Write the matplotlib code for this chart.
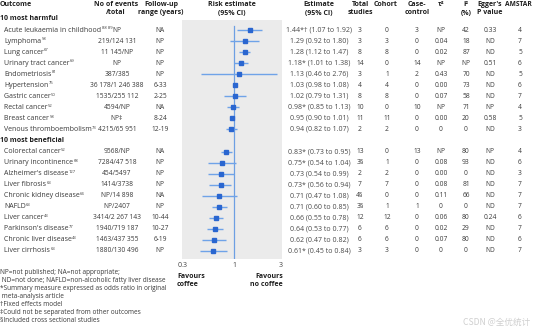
import matplotlib
matplotlib.use("Agg")
import matplotlib.pyplot as plt
from matplotlib.ticker import NullLocator

# ---- data -------------------------------------------------------------
outcomes = ["Acute leukaemia in childhood", "Lymphoma", "Lung cancer",
            "Urinary tract cancer", "Endometriosis", "Hypertension",
            "Gastric cancer", "Rectal cancer", "Breast cancer",
            "Venous thromboembolism",
            "Colorectal cancer", "Urinary incontinence", "Alzheimer's disease",
            "Liver fibrosis", "Chronic kidney disease", "NAFLD",
            "Liver cancer", "Parkinson's disease", "Chronic liver disease",
            "Liver cirrhosis"]
refs = ["88 89", "58", "67", "69", "81", "75", "50", "52", "58", "73",
        "52", "68", "127", "63", "64", "63", "43", "77", "43", "63"]
events = ["NP", "219/124 131", "11 145/NP", "NP", "387/385",
          "36 178/1 246 388", "1535/255 112", "4594/NP",
          "NP‡", "4215/65 951",
          "9568/NP", "7284/47 518", "454/5497", "1414/3738",
          "NP/14 898", "NP/2407", "3414/2 267 143",
          "1940/719 187", "1463/437 355", "1880/130 496"]
followup = ["NA", "NP", "NP", "NP", "NP", "6-33", "2-25", "NA", "8-24", "12-19",
            "NA", "NP", "NP", "NP", "NA", "NP", "10-44", "10-27", "6-19", "NP"]
est = [1.44, 1.29, 1.28, 1.18, 1.13, 1.03, 1.02, 0.98, 0.95, 0.94,
       0.83, 0.75, 0.73, 0.73, 0.71, 0.71, 0.66, 0.64, 0.62, 0.61]
lo = [1.07, 0.92, 1.12, 1.01, 0.46, 0.98, 0.79, 0.85, 0.90, 0.82,
      0.73, 0.54, 0.54, 0.56, 0.47, 0.60, 0.55, 0.53, 0.47, 0.45]
hi = [1.92, 1.80, 1.47, 1.38, 2.76, 1.08, 1.31, 1.13, 1.01, 1.07,
      0.95, 1.04, 0.99, 0.94, 1.08, 0.85, 0.78, 0.77, 0.82, 0.84]
flags = ["*†", "", "", "*", "", "", "", "*", "", "",
         "*", "*", "", "*", "", "", "", "", "", "*"]
total = ["3", "3", "8", "14", "3", "4", "8", "10", "11", "2",
         "13", "3§", "2", "7", "4§", "3§", "12", "6", "6", "3"]
cohort = ["0", "3", "8", "0", "1", "4", "8", "0", "11", "2",
          "0", "1", "2", "7", "0", "1", "12", "6", "6", "3"]
casecontrol = ["3", "0", "0", "14", "2", "0", "0", "10", "0", "0",
               "13", "0", "0", "0", "0", "1", "0", "0", "0", "0"]
tau2 = ["NP", "0.04", "0.02", "NP", "0.43", "0.00", "0.07", "NP", "0.00", "0",
        "NP", "0.08", "0.00", "0.08", "0.11", "0", "0.06", "0.02", "0.07", "0"]
i2 = ["42", "18", "87", "NP", "70", "73", "58", "71", "20", "0",
      "80", "93", "0", "81", "66", "0", "80", "29", "80", "0"]
egger = ["0.33", "ND", "ND", "0.51", "ND", "ND", "ND", "NP", "0.58", "ND",
         "NP", "ND", "ND", "ND", "ND", "ND", "0.24", "ND", "ND", "ND"]
amstar = ["4", "7", "5", "6", "5", "6", "7", "4", "5", "3",
          "4", "6", "3", "7", "7", "7", "6", "7", "6", "7"]
groups = ["10 most harmful", "10 most beneficial"]
footnotes = ["NP=not published; NA=not appropriate;",
             " ND=not done; NAFLD=non-alcoholic fatty liver disease",
             "*Summary measure expressed as odds ratio in original",
             " meta-analysis article",
             "†Fixed effects model",
             "‡Could not be separated from other outcomes",
             "§Included cross sectional studies"]

# ---- layout -----------------------------------------------------------
W, H = 534, 330
FONT = ["Open Sans", "DejaVu Sans"]
plt.rcParams["font.family"] = FONT
FS = 5.0      # body text
FN = 4.8      # count columns
FH = 5.0      # bold headers
TXT = "#3a3a3a"
HDR = "#1e1e1e"

fig = plt.figure(figsize=(W / 100, H / 100), dpi=100)
fig.patch.set_facecolor("white")

# canvas-wide axes in pixel units for the table text
tab = fig.add_axes([0, 0, 1, 1])
tab.set_xlim(0, W)
tab.set_ylim(H, 0)
tab.axis("off")

row0, dy = 30.0, 11.05
slots = list(range(10)) + list(range(11, 21))
ys = [row0 + s * dy for s in slots]

# forest panel
top, bottom = 20, 259
ax = fig.add_axes([182 / W, (H - bottom) / H, 100 / W, (bottom - top) / H])
ax.set_facecolor("#ebebeb")
ax.set_xscale("log")
ax.set_xlim(0.294, 3.09)
ax.set_ylim(bottom, top)
for s in ax.spines.values():
    s.set_visible(False)
ax.set_yticks([])
ax.set_xticks([0.3, 1, 3])
ax.set_xticklabels(["0.3", "1", "3"])
ax.xaxis.set_minor_locator(NullLocator())
ax.tick_params(axis="x", length=0, pad=2.5, labelsize=FS, labelcolor="#444444")

ax.plot([1, 1], [26, bottom], color="#6d9fe3", lw=0.9, zorder=2)
ax.hlines(ys, lo, hi, color="#6fa3e8", lw=1.0, zorder=3)
ax.plot(est, ys, "s", ms=2.3, color="#2a66d0", mec="#2a66d0", zorder=4)

# ---- header -----------------------------------------------------------
def hdr(x, y, s, ha="center", size=FH):
    tab.text(x, y, s, ha=ha, va="center", fontsize=size, fontweight="bold",
             color=HDR, linespacing=1.2)

hdr(0, 5, "Outcome", ha="left")
hdr(116, 9, "No of events\n/total")
hdr(161, 9, "Follow-up\nrange (years)")
hdr(232, 9, "Risk estimate\n(95% CI)")
hdr(319, 9, "Estimate\n(95% CI)")
hdr(360, 9, "Total\nstudies")
hdr(386, 5, "Cohort")
hdr(417, 9, "Case-\ncontrol")
hdr(441, 5, "τ²")
hdr(466, 9, "I²\n(%)")
hdr(490, 9, "Egger's\nP value")
hdr(532, 5, "AMSTAR", ha="right", size=4.8)

hdr(0, row0 - dy, groups[0], ha="left")
hdr(0, row0 + 10 * dy, groups[1], ha="left")

# ---- table body -------------------------------------------------------
cols = [(117, events), (160, followup), (360, total), (387, cohort),
        (417, casecontrol), (441, tau2), (466, i2), (490, egger), (520, amstar)]
names = []
for i, y in enumerate(ys):
    names.append(tab.text(4, y, outcomes[i], ha="left", va="center",
                          fontsize=FS, color=TXT))
    for x, vals in cols:
        tab.text(x, y, vals[i], ha="center", va="center", fontsize=FN,
                 color=TXT)
    lab = f"{est[i]:.2f}{flags[i]} ({lo[i]:.2f} to {hi[i]:.2f})"
    tab.text(319, y, lab, ha="center", va="center", fontsize=FS,
             color="#4a4a4a")

# reference numbers set as small superscripts after each outcome name
renderer = fig.canvas.get_renderer()
for i, t in enumerate(names):
    x_end = t.get_window_extent(renderer).x1
    tab.text(x_end + 0.4, ys[i] - 1.8, refs[i], ha="left", va="center",
             fontsize=3.0, color=TXT)

# favours labels under the axis
tab.text(177, 280, "Favours\ncoffee", ha="left", va="center", fontsize=FH,
         fontweight="bold", color=HDR, linespacing=1.2)
tab.text(283, 280, "Favours\nno coffee", ha="right", va="center", fontsize=FH,
         fontweight="bold", color=HDR, linespacing=1.2)

# footnotes
for k, line in enumerate(footnotes):
    tab.text(0, 273 + k * 8, line, ha="left", va="center", fontsize=4.7,
             color=TXT)

tab.text(530, 322, "CSDN @全优统计", ha="right", va="center", fontsize=6.2,
         color="#cfcfcf", family=["Noto Sans CJK SC", "DejaVu Sans"])

fig.savefig("out.png", dpi=100)
